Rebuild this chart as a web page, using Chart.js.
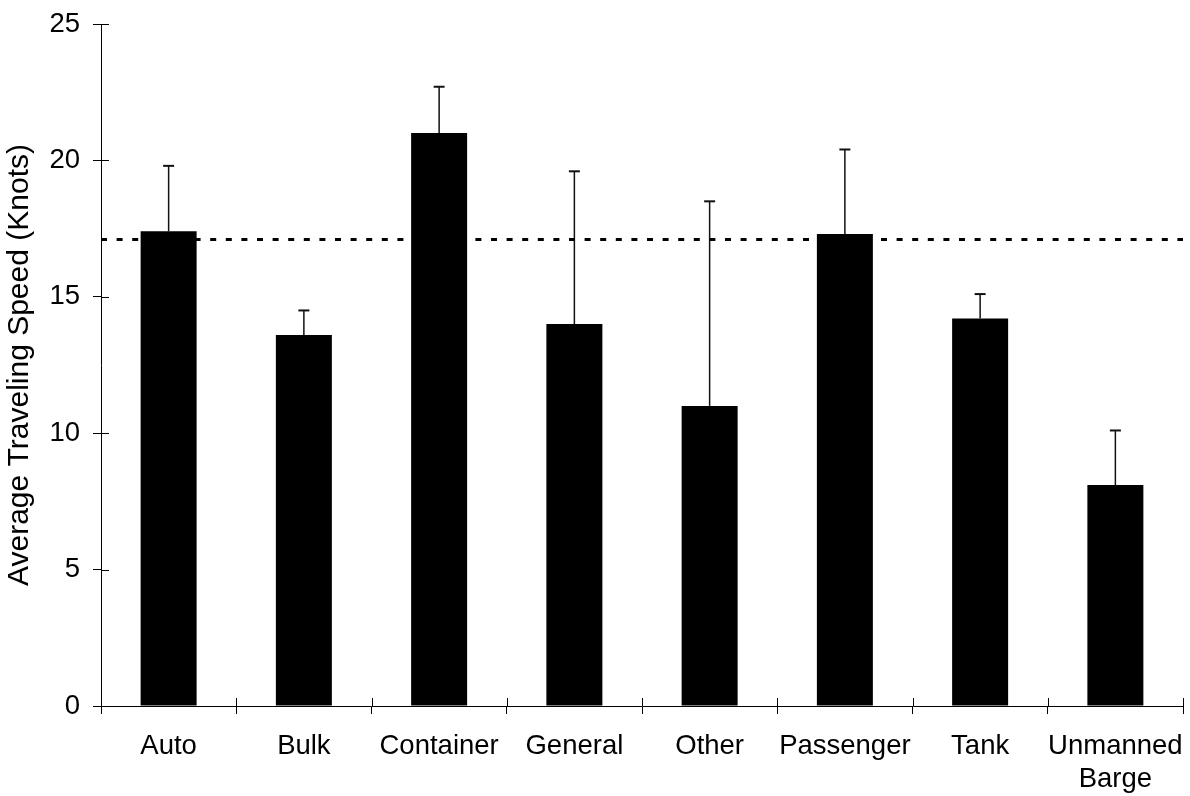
<!DOCTYPE html>
<html>
<head>
<meta charset="utf-8">
<script src="https://cdn.jsdelivr.net/npm/chart.js@4"></script>
<style>
  body { margin: 0; background: #fff; }
  canvas { display: block; }
</style>
</head>
<body>
<canvas id="speedChart" width="1190" height="796"></canvas>
<script>
// vessel types and their average speed, with the upper error (std dev)
const categories = ['Auto', 'Bulk', 'Container', 'General', 'Other', 'Passenger', 'Tank', ['Unmanned', 'Barge']];
const speeds = [17.4, 13.6, 21.0, 14.0, 11.0, 17.3, 14.2, 8.1];
const speedSd = [2.4, 0.9, 1.7, 5.6, 7.5, 3.1, 0.9, 2.0];
const averageSpeed = 17.1;
const yMin = 0, yMax = 25, yStep = 5;

const canvasElement = document.getElementById('speedChart');
const fontFamily = '"Liberation Sans", Arial, sans-serif';

// error bars on top of each bar
const errorBars = {
    id: 'errorBars',
    afterDatasetsDraw(chart) {
        const ctx = chart.ctx;
        const yScale = chart.scales.y;
        const meta = chart.getDatasetMeta(0);
        ctx.save();
        ctx.strokeStyle = '#111';
        meta.data.forEach(function(bar, i) {
            const top = yScale.getPixelForValue(speeds[i] + speedSd[i]);
            ctx.lineWidth = 1.5;
            ctx.beginPath();
            ctx.moveTo(bar.x, bar.y);
            ctx.lineTo(bar.x, top);
            ctx.stroke();
            ctx.lineWidth = 2;
            ctx.beginPath();
            ctx.moveTo(bar.x - 5.5, top);
            ctx.lineTo(bar.x + 5.5, top);
            ctx.stroke();
        });
        ctx.restore();
    }
};

// dotted line for the overall average + inner half of the axis ticks
const extras = {
    id: 'extras',
    afterDatasetsDraw(chart) {
        const ctx = chart.ctx;
        const area = chart.chartArea;
        const yScale = chart.scales.y;
        const xScale = chart.scales.x;
        ctx.save();
        const yAvg = yScale.getPixelForValue(averageSpeed);
        ctx.strokeStyle = '#000';
        ctx.lineWidth = 3;
        ctx.setLineDash([6, 9.6]);
        ctx.beginPath();
        ctx.moveTo(area.left, yAvg);
        ctx.lineTo(area.right, yAvg);
        ctx.stroke();
        ctx.setLineDash([]);

        ctx.lineWidth = 1;
        yScale.ticks.forEach(function(t) {
            const y = Math.round(yScale.getPixelForValue(t.value)) + 0.5;
            ctx.beginPath();
            ctx.moveTo(area.left, y);
            ctx.lineTo(area.left + 8, y);
            ctx.stroke();
        });
        const n = categories.length;
        for (let i = 0; i <= n; i++) {
            const x = Math.round(xScale.left + i * xScale.width / n) + 0.5;
            ctx.beginPath();
            ctx.moveTo(x, area.bottom);
            ctx.lineTo(x, area.bottom - 8);
            ctx.stroke();
        }
        ctx.restore();
    }
};

const config = {
    type: 'bar',
    data: {
        labels: categories,
        datasets: [
            {
                label: 'Average Traveling Speed',
                data: speeds,
                backgroundColor: '#000',
                borderWidth: 0,
                barPercentage: 0.414,
                categoryPercentage: 1.0,
            },
        ],
    },
    options: {
        responsive: false,
        animation: false,
        layout: { padding: { top: 24, right: 7, left: 0, bottom: 0 } },
        plugins: {
            legend: { display: false },
            tooltip: { enabled: false },
        },
        scales: {
            x: {
                grid: { drawOnChartArea: false, drawTicks: true, tickLength: 8, color: '#000', offset: true },
                border: { display: true, color: '#000', width: 1 },
                ticks: {
                    color: '#000',
                    padding: 16,
                    maxRotation: 0,
                    autoSkip: false,
                    font: { family: fontFamily, size: 27.5, lineHeight: 1.2 },
                },
                afterFit: function(scale) {
                    scale.height = 90;
                    scale.paddingLeft = 0;
                    scale.paddingRight = 0;
                },
            },
            y: {
                min: yMin,
                max: yMax,
                grid: { drawOnChartArea: false, drawTicks: true, tickLength: 8, color: '#000' },
                border: { display: true, color: '#000', width: 1 },
                ticks: {
                    stepSize: yStep,
                    color: '#000',
                    padding: 13,
                    font: { family: fontFamily, size: 27.5 },
                },
                title: {
                    display: true,
                    text: 'Average Traveling Speed (Knots)',
                    color: '#000',
                    padding: { top: 2, bottom: 0 },
                    font: { family: fontFamily, size: 30 },
                },
                afterFit: function(scale) {
                    scale.width = 101;
                    scale.paddingTop = 0;
                    scale.paddingBottom = 0;
                },
            },
        },
    },
    plugins: [errorBars, extras],
};

const myChart = new Chart(canvasElement, config);
</script>
</body>
</html>
